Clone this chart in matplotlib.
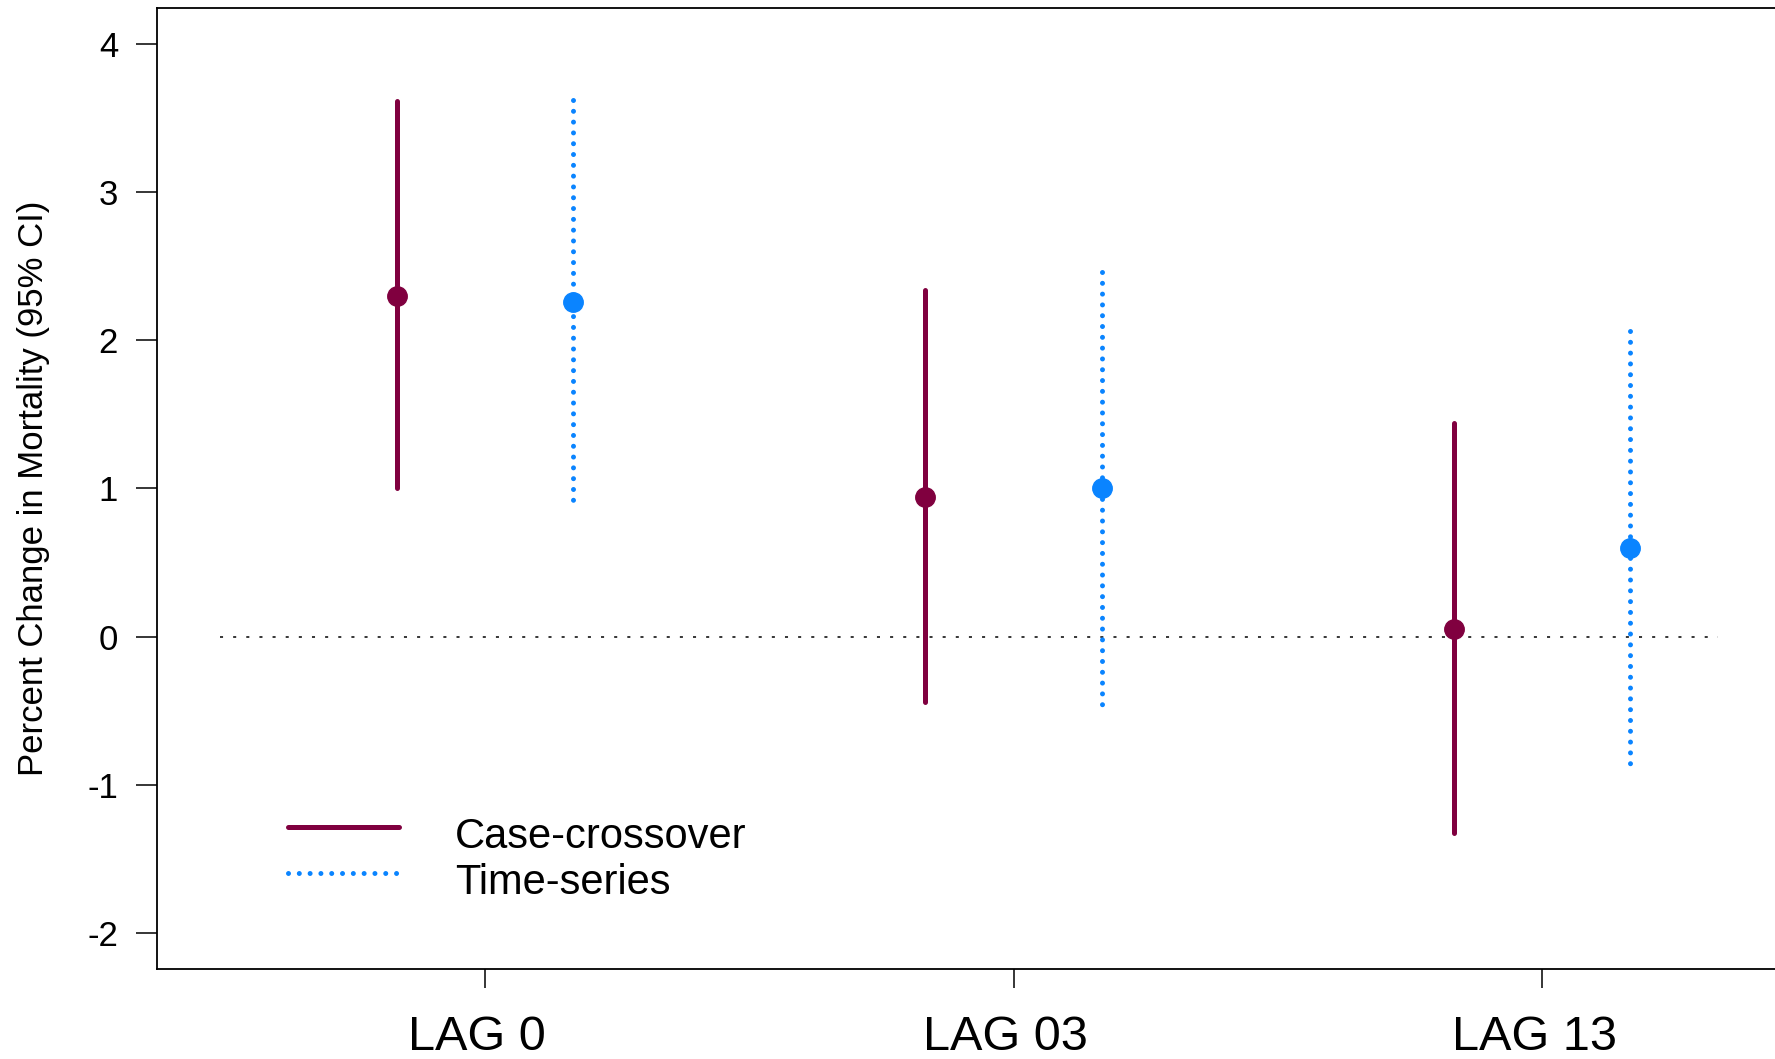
import matplotlib
matplotlib.use("Agg")
import matplotlib.pyplot as plt
import matplotlib.transforms as mtransforms
import numpy as np

# ---- data ----
lags = ["LAG 0", "LAG 03", "LAG 13"]
series = ["Case-crossover", "Time-series"]
case_est = [2.30, 0.94, 0.05]
case_lo = [1.00, -0.44, -1.32]
case_hi = [3.61, 2.34, 1.44]
ts_est = [2.26, 1.00, 0.60]
ts_lo = [0.92, -0.49, -0.88]
ts_hi = [3.62, 2.46, 2.06]
yticks = [-2, -1, 0, 1, 2, 3, 4]

case_color = "#80003F"
ts_color = "#0A84FF"

plt.rcParams['font.family'] = ['Liberation Sans', 'DejaVu Sans']

fig = plt.figure(figsize=(17.75, 10.59), dpi=100)
ax = fig.add_axes([0.08845, 0.08499, 0.9651, 0.90746])

pos = np.arange(1, len(lags) + 1)
off = 1 / 6

lw = 3.6
dots = (0, (0.001, 2.16))
# points
ax.plot(pos - off, case_est, 'o', color=case_color, markersize=14, zorder=3)
ax.plot(pos + off, ts_est, 'o', color=ts_color, markersize=14, zorder=3)
# intervals (drawn from upper to lower limit)
for i, x in enumerate(pos):
    ax.plot([x - off, x - off], [case_hi[i], case_lo[i]], color=case_color, lw=lw,
            solid_capstyle='round', zorder=4)
    ax.plot([x + off, x + off], [ts_hi[i], ts_lo[i]], color=ts_color, lw=lw,
            linestyle=dots, dash_capstyle='round', zorder=4)

# zero reference line
ax.hlines(0, 0.5, 3.333, colors='black', linewidth=1.1,
          linestyles=(0, (2.0, 6.6)), zorder=2)

ax.set_xlim(0.38, 3.62)
ax.set_ylim(-2.24, 4.24)
ax.set_xticks(pos)
ax.set_xticklabels(lags, fontsize=35)
ax.set_yticks(yticks)
ax.set_yticklabels([str(v) for v in yticks], fontsize=25)
ax.tick_params(axis='y', length=15, width=1.1, pad=13)
ax.tick_params(axis='x', length=14, width=1.1, pad=19)
shift = mtransforms.ScaledTranslation(-8 / 100, 0, fig.dpi_scale_trans)
for lab in ax.get_xticklabels():
    lab.set_transform(lab.get_transform() + shift)
for s in ax.spines.values():
    s.set_linewidth(1.3)

ax.set_ylabel("Percent Change in Mortality (95% CI)", fontsize=25, labelpad=27)

# legend
h1, = ax.plot([], [], color=case_color, lw=lw, solid_capstyle='round')
h2, = ax.plot([], [], color=ts_color, lw=lw, linestyle=dots, dash_capstyle='round')
leg = ax.legend([h1, h2], series, loc='upper left', bbox_to_anchor=(0.067, 0.182),
                frameon=False, fontsize=30, handlelength=2.65, handletextpad=1.35,
                labelspacing=0.15, borderaxespad=0)
txt_shift = mtransforms.ScaledTranslation(0, -6 / 100, fig.dpi_scale_trans)
for t in leg.get_texts():
    t.set_transform(t.get_transform() + txt_shift)

fig.savefig("out.png", dpi=100)
